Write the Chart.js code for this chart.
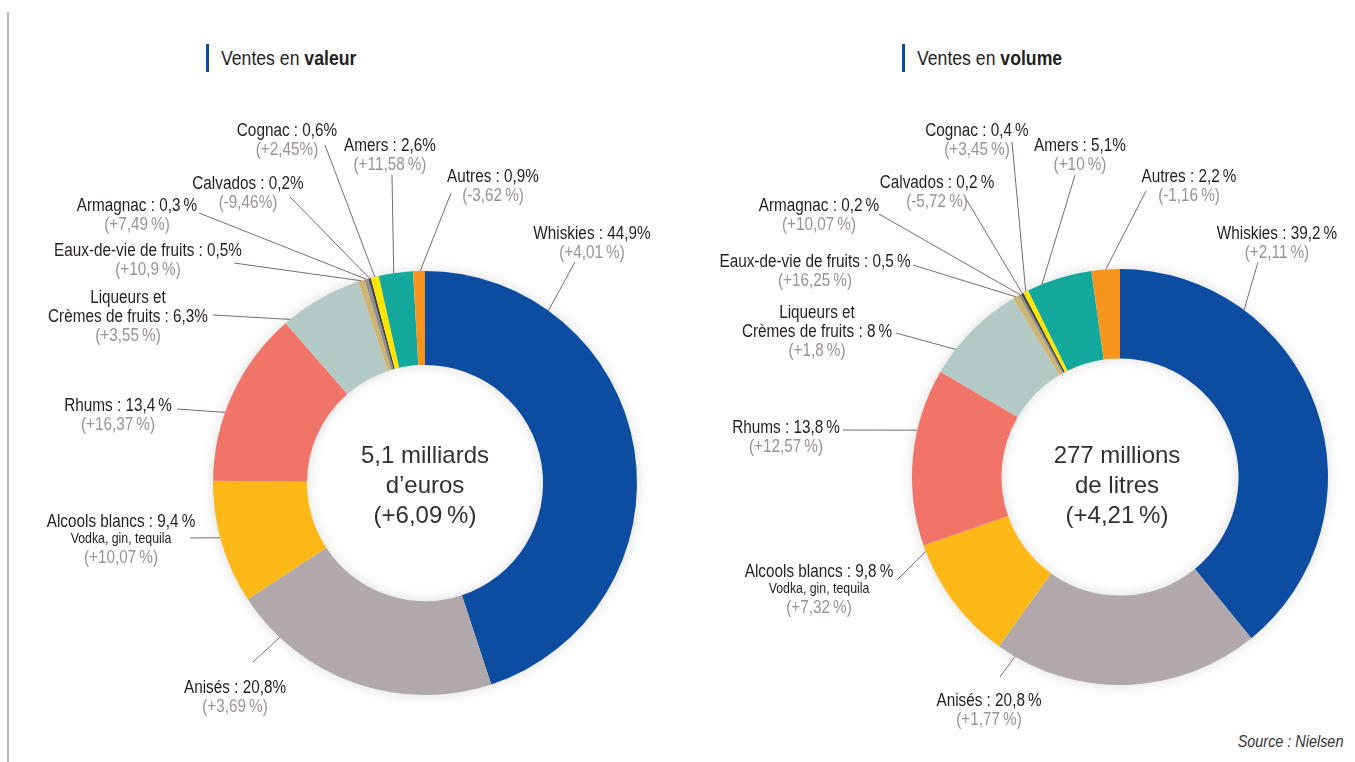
<!DOCTYPE html>
<html lang="fr">
<head>
<meta charset="utf-8">
<script src="https://cdn.jsdelivr.net/npm/chart.js@4/dist/chart.umd.min.js"></script>
<style>
  html, body { margin: 0; padding: 0; background: #fff; }
  body { width: 1355px; height: 762px; position: relative; overflow: hidden;
         font-family: "Liberation Sans", Arial, sans-serif; color: #231f20; }
  canvas { position: absolute; top: 0; }
  #cv1 { left: 0; }
  #cv2 { left: 677px; }
  .frame { position: absolute; left: 7px; top: 12px; width: 0; height: 760px; border-left: 2px solid #b9b9b9; }
  .title { position: absolute; height: 28px; border-left: 3px solid #0c4da2; white-space: nowrap; }
  .title span { display: inline-block; font-size: 21px; line-height: 28px; margin-left: 12px; transform: scaleX(0.84); transform-origin: left center; }
  .lab { position: absolute; white-space: nowrap; transform: translate(-50%, -50%) scaleX(0.85); font-size: 18px; line-height: 20px; }
  .chg { color: #9d9197; }
  .sub { font-size: 14.5px; }
  .center { position: absolute; white-space: nowrap; transform: translate(-50%, -50%); font-size: 24px; line-height: 28px; color: #333031; }
  .source { position: absolute; right: 12px; top: 733px; font-style: italic; font-size: 16px; color: #333; transform: scaleX(0.9); transform-origin: right center; }
</style>
</head>
<body>
<div class="frame"></div>
<div class="title" style="left:206px; top:44px;"><span>Ventes en <b>valeur</b></span></div>
<div class="title" style="left:902px; top:44px;"><span>Ventes en <b>volume</b></span></div>
<div class="source">Source : Nielsen</div>
<canvas id="cv1" width="677" height="762"></canvas>
<canvas id="cv2" width="678" height="762"></canvas>
<script>
// ---------- data ----------
const categories = ['Whiskies', 'Anisés', 'Alcools blancs', 'Rhums', 'Liqueurs et Crèmes de fruits',
  'Eaux-de-vie de fruits', 'Armagnac', 'Calvados', 'Cognac', 'Amers', 'Autres'];
const categoryLines = [['Whiskies'], ['Anisés'], ['Alcools blancs'], ['Rhums'], ['Liqueurs et', 'Crèmes de fruits'],
  ['Eaux-de-vie de fruits'], ['Armagnac'], ['Calvados'], ['Cognac'], ['Amers'], ['Autres']];
const categoryNotes = ['', '', 'Vodka, gin, tequila', '', '', '', '', '', '', '', ''];
const colors = ['#0c4da2', '#b0a8ab', '#fbb817', '#f07468', '#b3c9c6', '#cdb473', '#8f8f8f', '#454545', '#ffe600', '#14a89c', '#f7941d'];

const valeurShares = [44.9, 20.8, 9.4, 13.4, 6.3, 0.5, 0.3, 0.2, 0.6, 2.6, 0.9];
const valeurShareLabels = ['44,9%', '20,8%', '9,4\u202f%', '13,4\u202f%', '6,3%', '0,5%', '0,3\u202f%', '0,2%', '0,6%', '2,6%', '0,9%'];
const valeurChanges = ['(+4,01\u202f%)', '(+3,69\u202f%)', '(+10,07\u202f%)', '(+16,37\u202f%)', '(+3,55\u202f%)', '(+10,9\u202f%)',
  '(+7,49\u202f%)', '(-9,46%)', '(+2,45%)', '(+11,58\u202f%)', '(-3,62\u202f%)'];
const valeurTotal = ['5,1 milliards', 'd\u2019euros', '(+6,09\u202f%)'];

const volumeShares = [39.2, 20.8, 9.8, 13.8, 8, 0.5, 0.2, 0.2, 0.4, 5.1, 2.2];
const volumeShareLabels = ['39,2\u202f%', '20,8\u202f%', '9,8\u202f%', '13,8\u202f%', '8\u202f%', '0,5\u202f%', '0,2\u202f%', '0,2\u202f%', '0,4\u202f%', '5,1%', '2,2\u202f%'];
const volumeChanges = ['(+2,11\u202f%)', '(+1,77\u202f%)', '(+7,32\u202f%)', '(+12,57\u202f%)', '(+1,8\u202f%)', '(+16,25\u202f%)',
  '(+10,07\u202f%)', '(-5,72\u202f%)', '(+3,45\u202f%)', '(+10\u202f%)', '(-1,16\u202f%)'];
const volumeTotal = ['277 millions', 'de litres', '(+4,21\u202f%)'];

// ---------- layout (page coordinates) ----------
// x,y: centre of first label line; from: start of leader line; t: position inside the slice where the line ends
const valeurLayout = [
  {x: 592, y: 233, from: [575, 262], t: 0.22},
  {x: 235, y: 687, from: [253, 662], t: 0.82},
  {x: 121, y: 521, from: [190, 538], t: 0.54},
  {x: 118, y: 405, from: [177, 409], t: 0.39},
  {x: 128, y: 297, from: [213, 315], t: 0.07},
  {x: 148, y: 250, from: [234, 263], t: 0.5},
  {x: 137, y: 205, from: [199, 213], t: 0.5},
  {x: 248, y: 183, from: [290, 197], t: 0.5},
  {x: 287, y: 130, from: [325, 145], t: 0.5},
  {x: 390, y: 145, from: [392, 175], t: 0.44},
  {x: 493, y: 176, from: [451, 193], t: 0.6}
];
const volumeLayout = [
  {x: 1277, y: 233, from: [1258, 262], t: 0.26},
  {x: 989, y: 700, from: [1000, 677], t: 0.93},
  {x: 819, y: 571, from: [897, 580], t: 0.95},
  {x: 786, y: 427, from: [843, 430], t: 0.65},
  {x: 817, y: 312, from: [896, 333], t: 0.26},
  {x: 815, y: 261, from: [913, 265], t: 0.5},
  {x: 819, y: 205, from: [879, 214], t: 0.5},
  {x: 937, y: 182, from: [965, 197], t: 0.5},
  {x: 977, y: 130, from: [1012, 142], t: 0.5},
  {x: 1080, y: 145, from: [1075, 175], t: 0.23},
  {x: 1189, y: 176, from: [1146, 191], t: 0.5}
];

// ---------- helpers ----------
function addText(cls, text, x, y) {
  const d = document.createElement('div');
  d.className = cls;
  d.textContent = text;
  d.style.left = x + 'px';
  d.style.top = y + 'px';
  document.body.appendChild(d);
}

function buildLabels(layout, shareLabels, changes) {
  layout.forEach((L, i) => {
    let y = L.y;
    const lines = categoryLines[i];
    lines.forEach((ln, k) => {
      const txt = k === lines.length - 1 ? ln + ' : ' + shareLabels[i] : ln;
      addText('lab', txt, L.x, y);
      y += 19;
    });
    if (categoryNotes[i]) { addText('lab sub', categoryNotes[i], L.x, y - 2); y += 17; }
    addText('lab chg', changes[i], L.x, y);
  });
}

const shadowRing = {
  id: 'shadowRing',
  beforeDatasetsDraw(chart) {
    const arc = chart.getDatasetMeta(0).data[0];
    if (!arc) return;
    const p = arc.getProps(['x', 'y', 'outerRadius', 'innerRadius'], true);
    const ctx = chart.ctx;
    ctx.save();
    ctx.shadowColor = 'rgba(0,0,0,0.16)';
    ctx.shadowBlur = 14;
    ctx.fillStyle = '#fff';
    ctx.beginPath();
    ctx.arc(p.x, p.y, p.outerRadius - 1, 0, Math.PI * 2);
    ctx.arc(p.x, p.y, p.innerRadius + 1, Math.PI * 2, 0, true);
    ctx.fill();
    ctx.restore();
  }
};

const leaders = {
  id: 'leaders',
  afterDatasetsDraw(chart, args, opts) {
    const ctx = chart.ctx;
    const meta = chart.getDatasetMeta(0);
    ctx.save();
    ctx.strokeStyle = '#7b6a72';
    ctx.lineWidth = 1;
    opts.layout.forEach((L, i) => {
      const a = meta.data[i];
      const p = a.getProps(['x', 'y', 'startAngle', 'endAngle', 'outerRadius'], true);
      const ang = p.startAngle + L.t * (p.endAngle - p.startAngle);
      const ex = p.x + Math.cos(ang) * p.outerRadius;
      const ey = p.y + Math.sin(ang) * p.outerRadius;
      ctx.beginPath();
      ctx.moveTo(L.from[0] - opts.offset, L.from[1]);
      ctx.lineTo(ex, ey);
      ctx.stroke();
    });
    ctx.restore();
  }
};

function makeChart(id, values, layout, offset, padding, cutout) {
  return new Chart(document.getElementById(id), {
    type: 'doughnut',
    data: {
      labels: categories,
      datasets: [{ data: values, backgroundColor: colors, borderWidth: 0, hoverOffset: 0 }]
    },
    options: {
      responsive: false,
      animation: false,
      devicePixelRatio: 1,
      cutout: cutout,
      layout: { padding: padding },
      plugins: {
        legend: { display: false },
        tooltip: { enabled: false },
        leaders: { layout: layout, offset: offset }
      }
    },
    plugins: [shadowRing, leaders]
  });
}

makeChart('cv1', valeurShares, valeurLayout, 0, {left: 213, right: 40, top: 271, bottom: 67}, '55.7%');
makeChart('cv2', volumeShares, volumeLayout, 677, {left: 235, right: 27, top: 269, bottom: 77}, '57%');

buildLabels(valeurLayout, valeurShareLabels, valeurChanges);
buildLabels(volumeLayout, volumeShareLabels, volumeChanges);

valeurTotal.forEach((t, k) => addText('center', t, 425, 455 + k * 30));
volumeTotal.forEach((t, k) => addText('center', t, 1117, 455 + k * 30));
</script>
</body>
</html>
